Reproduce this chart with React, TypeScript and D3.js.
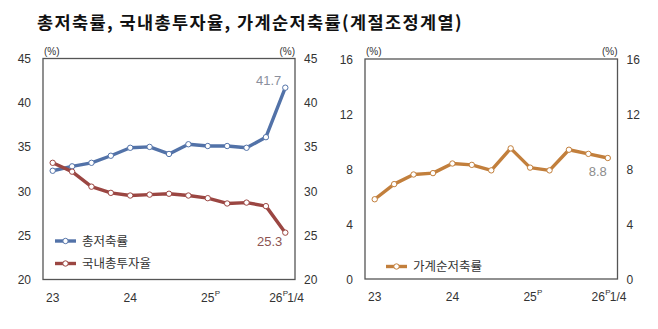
import React from "react";
import * as d3 from "d3";

// Quarterly observations, 2023 Q1 – 2026 Q1 (seasonally adjusted)
const quarters = [
  "23Q1", "23Q2", "23Q3", "23Q4",
  "24Q1", "24Q2", "24Q3", "24Q4",
  "25Q1", "25Q2", "25Q3", "25Q4",
  "26Q1",
];
const grossSavingRate = [32.3, 32.8, 33.2, 34.0, 34.9, 35.0, 34.2, 35.3, 35.1, 35.1, 34.9, 36.1, 41.7];
const grossInvestmentRate = [33.2, 32.2, 30.5, 29.8, 29.5, 29.6, 29.7, 29.5, 29.2, 28.6, 28.7, 28.3, 25.3];
const householdSavingRate = [5.8, 6.9, 7.6, 7.7, 8.4, 8.3, 7.9, 9.5, 8.1, 7.9, 9.4, 9.1, 8.8];

const leftTicks = [20, 25, 30, 35, 40, 45];
const rightTicks = [0, 4, 8, 12, 16];

// Year labels: quarter index, year text, preliminary mark, trailing note
const yearLabels = [
  { idx: 0, year: "23", prelim: false, note: "" },
  { idx: 4, year: "24", prelim: false, note: "" },
  { idx: 8, year: "25", prelim: true, note: "" },
  { idx: 12, year: "26", prelim: true, note: "1/4" },
];

const titleText = "총저축률, 국내총투자율, 가계순저축률(계절조정계열)";

const BLUE = "#5272a8";
const RED = "#9b4642";
const ORANGE = "#c27f3c";
const FRAME = "#555";
const FONT = "'Liberation Sans', Arial, sans-serif";
const KFONT = "'Noto Sans CJK KR', 'Noto Sans', sans-serif";

type Series = {
  name: string;
  values: number[];
  color: string;
};

type PanelProps = {
  x0: number;
  x1: number;
  yTop: number;
  yBottom: number;
  domain: [number, number];
  ticks: number[];
  series: Series[];
  valueLabels: { seriesIdx: number; color: string; dx: number; dy: number }[];
  legendX: number;
  legendY: number[];
};

function Panel(p: PanelProps) {
  const x = d3.scalePoint<string>().domain(quarters).range([p.x0, p.x1]).padding(0.5);
  const y = d3.scaleLinear().domain(p.domain).range([p.yBottom, p.yTop]);
  const line = d3
    .line<number>()
    .x((_, i) => x(quarters[i]) as number)
    .y((d) => y(d));

  return (
    <g>
      {/* frame */}
      <rect
        x={p.x0}
        y={p.yTop}
        width={p.x1 - p.x0}
        height={p.yBottom - p.yTop}
        fill="none"
        stroke={FRAME}
        strokeWidth={1.3}
      />
      {/* unit labels */}
      <text x={p.x0 + 1} y={p.yTop - 4} fontSize={10} fontFamily={FONT} fill="#333">(%)</text>
      <text x={p.x1} y={p.yTop - 4} fontSize={10} fontFamily={FONT} fill="#333" textAnchor="end">(%)</text>
      {/* y tick labels on both sides */}
      {p.ticks.map((t) => (
        <g key={t}>
          <text x={p.x0 - 12} y={y(t) + 4.5} fontSize={12} fontFamily={FONT} fill="#333" textAnchor="end">{t}</text>
          <text x={p.x1 + 9} y={y(t) + 4.5} fontSize={12} fontFamily={FONT} fill="#333">{t}</text>
        </g>
      ))}
      {/* x year labels */}
      {yearLabels.map((l) => {
        const cx = x(quarters[l.idx]) as number;
        const base = p.yBottom + 22;
        const yearX = l.note ? cx - 9.5 : cx;
        return (
          <g key={l.year}>
            <text x={yearX} y={base} fontSize={12} fontFamily={FONT} fill="#333" textAnchor="middle">{l.year}</text>
            {l.prelim && (
              <text x={yearX + 7} y={base - 6} fontSize={8} fontFamily={FONT} fill="#333">P</text>
            )}
            {l.note && (
              <text x={cx + 2} y={base} fontSize={12} fontFamily={FONT} fill="#333">{l.note}</text>
            )}
          </g>
        );
      })}
      {/* series */}
      {p.series.map((s) => (
        <g key={s.name}>
          <path d={line(s.values) || ""} fill="none" stroke={s.color} strokeWidth={3.4} strokeLinejoin="round" />
          {s.values.map((v, i) => (
            <circle key={i} cx={x(quarters[i]) as number} cy={y(v)} r={2.7} fill="#fff" stroke={s.color} strokeWidth={1} />
          ))}
        </g>
      ))}
      {/* last-value labels */}
      {p.valueLabels.map((vl) => {
        const s = p.series[vl.seriesIdx];
        const last = s.values.length - 1;
        return (
          <text
            key={s.name}
            x={(x(quarters[last]) as number) + vl.dx}
            y={y(s.values[last]) + vl.dy}
            fontSize={13}
            fontFamily={FONT}
            fill={vl.color}
            textAnchor="end"
          >
            {s.values[last].toFixed(1)}
          </text>
        );
      })}
      {/* legend */}
      {p.series.map((s, i) => (
        <g key={"lg" + s.name}>
          <line x1={p.legendX} x2={p.legendX + 21} y1={p.legendY[i]} y2={p.legendY[i]} stroke={s.color} strokeWidth={3.4} />
          <circle cx={p.legendX + 10.5} cy={p.legendY[i]} r={2.7} fill="#fff" stroke={s.color} strokeWidth={1} />
          <text x={p.legendX + 27} y={p.legendY[i] + 4.5} fontSize={12.5} fontFamily={KFONT} fill="#333">{s.name}</text>
        </g>
      ))}
    </g>
  );
}

export default function App() {
  return (
    <svg
      width={658}
      height={329}
      style={{ position: "absolute", left: 0, top: 0, background: "#fff" }}
    >
      <rect width={658} height={329} fill="#fff" />
      <text x={37} y={29} fontSize={17.5} fontWeight="bold" fontFamily={KFONT} fill="#111" letterSpacing={1.4}>{titleText}</text>
      <Panel
        x0={43}
        x1={295}
        yTop={58.5}
        yBottom={279.5}
        domain={[20, 45]}
        ticks={leftTicks}
        series={[
          { name: "총저축률", values: grossSavingRate, color: BLUE },
          { name: "국내총투자율", values: grossInvestmentRate, color: RED },
        ]}
        valueLabels={[
          { seriesIdx: 0, color: "#8a8f9c", dx: -4, dy: -3 },
          { seriesIdx: 1, color: "#8d5452", dx: -3, dy: 13.5 },
        ]}
        legendX={55}
        legendY={[241, 263.5]}
      />
      <Panel
        x0={365}
        x1={617.5}
        yTop={59}
        yBottom={279}
        domain={[0, 16]}
        ticks={rightTicks}
        series={[{ name: "가계순저축률", values: householdSavingRate, color: ORANGE }]}
        valueLabels={[{ seriesIdx: 0, color: "#8c8c8c", dx: -1, dy: 18 }]}
        legendX={386}
        legendY={[266.5]}
      />
    </svg>
  );
}
